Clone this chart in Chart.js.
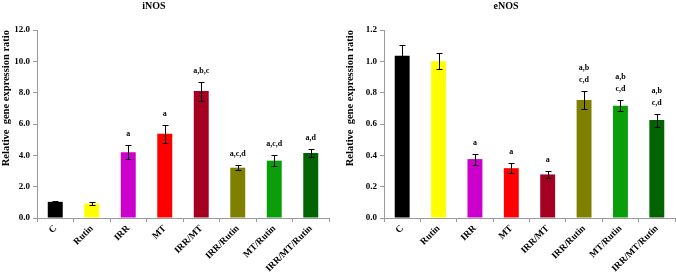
<!DOCTYPE html>
<html><head><meta charset="utf-8">
<script src="https://cdn.jsdelivr.net/npm/chart.js@4"></script>
<style>
html,body{margin:0;padding:0;background:#fff;}
#wrap{position:relative;width:676px;height:273px;overflow:hidden;background:#fff;}
.box{position:absolute;top:0;height:273px;}
</style></head><body>
<div id="wrap">
<div class="box" style="left:0;width:336px"><canvas id="c1" width="336" height="273"></canvas></div>
<div class="box" style="left:336px;width:340px"><canvas id="c2" width="340" height="273"></canvas></div>
</div>
<script>
// ---- data ----
const categories = ['C', 'Rutin', 'IRR', 'MT', 'IRR/MT', 'IRR/Rutin', 'MT/Rutin', 'IRR/MT/Rutin'];
const barColors = ['#000000', '#FFFF00', '#CC00CC', '#FF0000', '#A50021', '#808000', '#0A9E0A', '#006400'];

const iNOSTitle = 'iNOS';
const iNOSValues = [1.03, 0.92, 4.2, 5.37, 8.1, 3.21, 3.66, 4.15];
const iNOSErrors = [0.07, 0.11, 0.45, 0.56, 0.6, 0.16, 0.36, 0.23];
const iNOSSig = ['', '', 'a', 'a', 'a,b,c', 'a,c,d', 'a,c,d', 'a,d'];
const iNOSTicks = [0, 2, 4, 6, 8, 10, 12];

const eNOSTitle = 'eNOS';
const eNOSValues = [1.035, 1.0, 0.376, 0.318, 0.278, 0.753, 0.717, 0.625];
const eNOSErrors = [0.072, 0.05, 0.035, 0.032, 0.02, 0.06, 0.037, 0.041];
const eNOSSig = ['', '', 'a', 'a', 'a', ['a,b', 'c,d'], ['a,b', 'c,d'], ['a,b', 'c,d']];
const eNOSTicks = [0, 0.2, 0.4, 0.6, 0.8, 1.0, 1.2];

const yTitle = 'Relative  gene expression ratio';

// ---- drawing ----
const FONT = "'Liberation Serif', 'Times New Roman', serif";
const AXIS = '#9a9a9a';

const errPlugin = {
  id: 'errs',
  afterDatasetsDraw(chart, args, opts) {
    const ctx = chart.ctx;
    const meta = chart.getDatasetMeta(0);
    const ys = chart.scales.y;
    const data = chart.data.datasets[0].data;
    ctx.save();
    ctx.strokeStyle = '#000';
    ctx.lineWidth = 1;
    meta.data.forEach((bar, i) => {
      const v = data[i], e = opts.errors[i];
      const yt = Math.round(ys.getPixelForValue(v + e)) + 0.5;
      const yb = Math.round(ys.getPixelForValue(v - e)) + 0.5;
      const x = Math.round(bar.x) + 0.5;
      ctx.beginPath();
      ctx.moveTo(x, yt); ctx.lineTo(x, yb);
      ctx.moveTo(x - 3, yt); ctx.lineTo(x + 3, yt);
      ctx.moveTo(x - 3, yb); ctx.lineTo(x + 3, yb);
      ctx.stroke();
      const lab = opts.labels[i];
      const lines = Array.isArray(lab) ? lab : (lab ? [lab] : []);
      ctx.fillStyle = '#000';
      ctx.font = "bold 8px " + FONT;
      ctx.textAlign = 'center';
      ctx.textBaseline = 'middle';
      const n = lines.length;
      lines.forEach((t, k) => {
        ctx.fillText(t, bar.x, yt - 12 - (n - 1 - k) * 11.5);
      });
    });
    ctx.restore();
  }
};

const titlePlugin = {
  id: 'topTitle',
  afterDraw(chart, args, opts) {
    const ctx = chart.ctx;
    ctx.save();
    ctx.fillStyle = '#000';
    ctx.font = "bold 10px " + FONT;
    ctx.textAlign = 'center';
    ctx.textBaseline = 'middle';
    ctx.fillText(opts.text, opts.x, opts.y);
    ctx.restore();
  }
};

function makeChart(id, title, titleX, values, errors, sig, ticks, yWidth, padRight, yTitlePad) {
  const step = ticks[1] - ticks[0];
  return new Chart(document.getElementById(id), {
    type: 'bar',
    data: {
      labels: categories,
      datasets: [{
        data: values,
        backgroundColor: barColors,
        borderWidth: 0,
        barPercentage: 0.41,
        categoryPercentage: 1.0
      }]
    },
    options: {
      responsive: false,
      animation: false,
      devicePixelRatio: 1,
      layout: { padding: { top: 30, right: padRight, left: 0, bottom: 0 } },
      plugins: {
        legend: { display: false },
        tooltip: { enabled: false },
        title: { display: false },
        errs: { errors: errors, labels: sig },
        topTitle: { text: title, x: titleX, y: 6 }
      },
      scales: {
        x: {
          offset: true,
          grid: { display: true, drawOnChartArea: false, offset: true, tickLength: 4, color: AXIS },
          border: { color: AXIS, width: 1 },
          ticks: {
            color: '#000', autoSkip: false, minRotation: 45, maxRotation: 45, padding: 1,
            font: { family: FONT, weight: 'bold', size: 9.5 }
          },
          afterFit(s) { s.height = 55; }
        },
        y: {
          min: ticks[0], max: ticks[ticks.length - 1],
          afterBuildTicks(s) { s.ticks = ticks.map(v => ({ value: v })); },
          ticks: {
            stepSize: step, color: '#000', padding: 3,
            callback: v => Number(v).toFixed(1),
            font: { family: FONT, weight: 'bold', size: 9 }
          },
          grid: { display: true, drawOnChartArea: false, tickLength: 4, color: AXIS },
          border: { color: AXIS, width: 1 },
          title: {
            display: true, text: yTitle, align: 'end', color: '#000',
            font: { family: FONT, weight: 'bold', size: 10.5 },
            padding: { top: yTitlePad, bottom: 0 }
          },
          afterFit(s) { s.width = yWidth; }
        }
      }
    },
    plugins: [errPlugin, titlePlugin]
  });
}

makeChart('c1', iNOSTitle, 154, iNOSValues, iNOSErrors, iNOSSig, iNOSTicks, 37, 7, 0);
makeChart('c2', eNOSTitle, 170, eNOSValues, eNOSErrors, eNOSSig, eNOSTicks, 48, 1, 8);
</script>
</body></html>
